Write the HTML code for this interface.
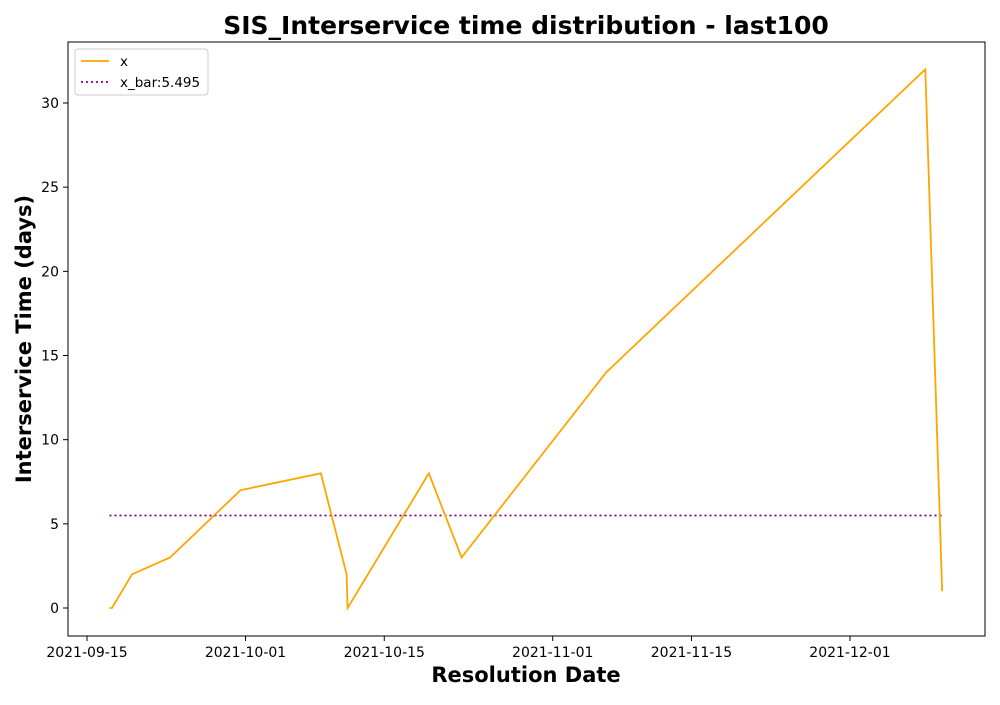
<!DOCTYPE html>
<html><head><meta charset="utf-8"><style>
body{margin:0;background:#fff;font-family:"Liberation Sans","DejaVu Sans",sans-serif;}
</style></head><body>
<svg id="chart" width="1000" height="700" xmlns="http://www.w3.org/2000/svg" style="font-family:'DejaVu Sans','Liberation Sans',sans-serif">
<rect width="1000" height="700" fill="#fff"/>
<text x="526" y="34" text-anchor="middle" font-size="25" font-weight="bold">SIS_Interservice time distribution - last100</text>
<g id="plot"></g>
<rect x="68" y="42" width="917" height="594" fill="none" stroke="#000" stroke-width="1"/>
<text x="526" y="682" text-anchor="middle" font-size="21" font-weight="bold">Resolution Date</text>
<text transform="translate(31,339) rotate(-90)" text-anchor="middle" font-size="21" font-weight="bold">Interservice Time (days)</text>
<g>
<rect x="75" y="49" width="133" height="46" rx="3" fill="#fff" stroke="#ccc"/>
<line x1="81" y1="61" x2="109" y2="61" stroke="orange" stroke-width="1.8"/>
<text x="120" y="66" font-size="13.5">x</text>
<line x1="81" y1="82" x2="109" y2="82" stroke="purple" stroke-width="1.8" stroke-dasharray="2,3"/>
<text x="120" y="87" font-size="13.5">x_bar:5.495</text>
</g>
</svg>
<script>
// days since 2021-09-15
const xDays=[2.27,2.52,4.54,8.38,15.5,23.6,26.2,26.3,34.5,37.8,52.4,84.6,86.3];
const yVals=[0,0,2,3,7,8,2,0,8,3,14,32,1];
const xBar=5.495;
const xTickDays=[0,16,30,47,61,77];
const xTickLabels=["2021-09-15","2021-10-01","2021-10-15","2021-11-01","2021-11-15","2021-12-01"];
const yTicks=[0,5,10,15,20,25,30];
const NS="http://www.w3.org/2000/svg";
const sx=d=>87+d*9.909;
const sy=v=>608-v*16.833;
const g=document.getElementById('plot');
function mk(t,a){const e=document.createElementNS(NS,t);for(const k in a)e.setAttribute(k,a[k]);g.appendChild(e);return e;}
xTickDays.forEach((d,i)=>{
 const l=mk('line',{x1:sx(d),x2:sx(d),y1:636,y2:641,stroke:'#000'});
 
 
 const t=mk('text',{x:sx(d),y:657,'text-anchor':'middle','font-size':'14'});
 t.textContent=xTickLabels[i];
 
 
});
yTicks.forEach(v=>{
 const l=mk('line',{x1:63,x2:68,y1:sy(v),y2:sy(v),stroke:'#000'});
 
 
 const t=mk('text',{x:59,y:sy(v)+5,'text-anchor':'end','font-size':'14'});
 t.textContent=v;
 
 
});
const mean=mk('line',{x1:sx(xDays[0]),x2:sx(xDays[xDays.length-1]),y1:sy(xBar),y2:sy(xBar),stroke:'purple','stroke-width':1.8,'stroke-dasharray':'2,3'});


const pts=xDays.map((d,i)=>sx(d)+','+sy(yVals[i])).join(' ');
const pl=mk('polyline',{points:pts,fill:'none',stroke:'orange','stroke-width':1.8});


</script>
</body></html>
